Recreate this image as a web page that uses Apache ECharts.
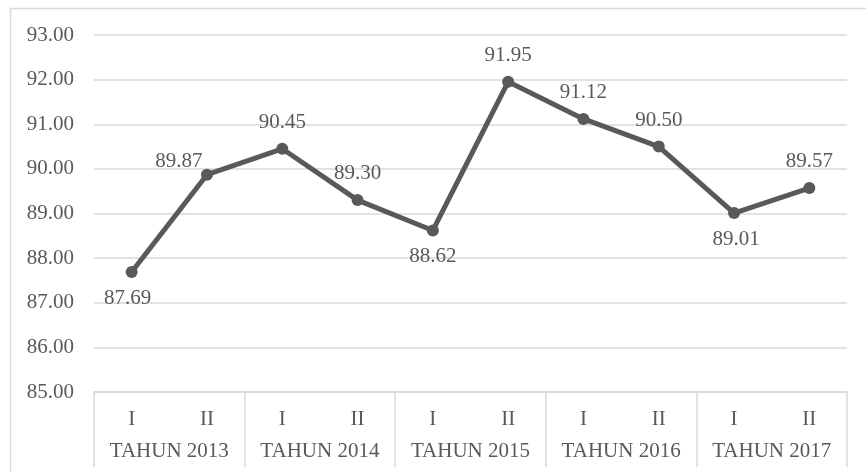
<!DOCTYPE html>
<html>
<head>
<meta charset="utf-8">
<script src="https://cdn.jsdelivr.net/npm/echarts@6/dist/echarts.min.js"></script>
<style>
html,body{margin:0;padding:0;background:#fff;}
#c{width:866px;height:472px;}
</style>
</head>
<body>
<div id="c"></div>
<script>
// ---- data ----
var semesters = ['I','II','I','II','I','II','I','II','I','II'];
var years = ['TAHUN 2013','TAHUN 2014','TAHUN 2015','TAHUN 2016','TAHUN 2017'];
var values = [87.69, 89.87, 90.45, 89.30, 88.62, 91.95, 91.12, 90.50, 89.01, 89.57];
var yTicks = { min: 85, max: 93, interval: 1 };

// ---- label placement (style only) ----
var labelPos = ['bottom','top','top','top','bottom','top','top','top','bottom','top'];
var labelShift = [[-4,0],[-28,13],[0,0],[0,0],[0,0],[0,0],[0,0],[0,0],[2,0],[0,0]];

var font = 'Liberation Serif';
var txt = '#595959';
var gridC = '#d9d9d9';
var fs = 21;

var chart = echarts.init(document.getElementById('c'), null, {renderer:'canvas'});
chart.setOption({
  backgroundColor: '#fff',
  animation: false,
  graphic: [{
    type: 'rect', left: 8, top: 6, silent: true,
    shape: { width: 900, height: 500 },
    style: { fill: 'none', stroke: gridC, lineWidth: 1.5 }
  }],
  grid: { left: 94, right: 19, top: 35, bottom: 80 },
  xAxis: [{
    type: 'category',
    data: semesters,
    boundaryGap: true,
    position: 'bottom',
    axisLine: { show: true, lineStyle: { color: gridC, width: 1.5 } },
    axisTick: { show: false },
    axisLabel: { color: txt, fontFamily: font, fontSize: fs, margin: 17, interval: 0 }
  }, {
    type: 'category',
    data: years,
    boundaryGap: true,
    position: 'bottom',
    axisLine: { show: false },
    axisTick: { show: true, length: 75, interval: 0, lineStyle: { color: gridC, width: 1.5 } },
    axisLabel: { color: txt, fontFamily: font, fontSize: fs, margin: 49, interval: 0 }
  }],
  yAxis: {
    type: 'value',
    min: yTicks.min, max: yTicks.max, interval: yTicks.interval,
    axisLine: { show: false },
    axisTick: { show: false },
    splitLine: { lineStyle: { color: gridC, width: 1.5 } },
    axisLabel: { color: txt, fontFamily: font, fontSize: fs, margin: 20,
      formatter: function (v) { return v.toFixed(2); } }
  },
  series: [{
    type: 'line',
    xAxisIndex: 0,
    data: values.map(function (v, i) {
      return {
        value: v,
        label: { position: labelPos[i], offset: labelShift[i] }
      };
    }),
    symbol: 'circle',
    symbolSize: 12,
    lineStyle: { color: '#595959', width: 5 },
    itemStyle: { color: '#595959' },
    label: {
      show: true, distance: 10,
      color: txt, fontFamily: font, fontSize: fs,
      formatter: function (p) { return p.value.toFixed(2); }
    }
  }]
});
</script>
</body>
</html>
